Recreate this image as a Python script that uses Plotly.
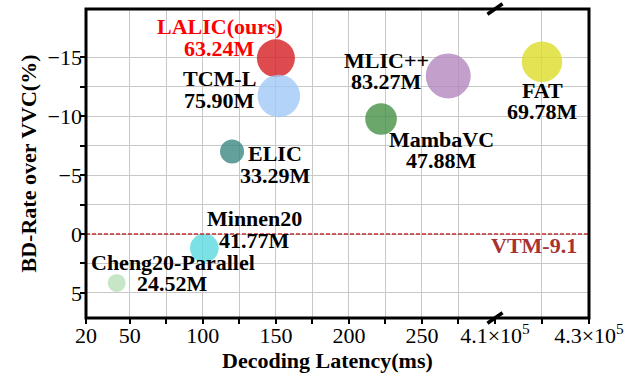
import math
import plotly.graph_objects as go

# ---------------- data ----------------
methods = ["LALIC(ours)", "TCM-L", "ELIC", "MLIC++", "MambaVC", "FAT", "Minnen20", "Cheng20-Parallel"]
latency_ms = [150, 152, 120, 268, 222, 4.2e5, 101, 41]
bd_rate = [-14.9, -11.7, -7.0, -13.4, -9.75, -14.6, 1.2, 4.15]
params_m = [63.24, 75.90, 33.29, 83.27, 47.88, 69.78, 41.77, 24.52]

x_left_ticks = [20, 50, 100, 150, 200, 250]
x_left_minor = [75, 125, 175, 225, 275]
x_right_ticks = [4.1e5, 4.3e5]
x_right_ticktext = ["4.1×10<sup>5</sup>", "4.3×10<sup>5</sup>"]
x_right_minor = [4.2e5]
y_ticks = [-15, -10, -5, 0, 5]
y_minor = [-12.5, -7.5, -2.5, 2.5]
vtm_value = 0
vtm_label = "VTM-9.1"

# ---------------- styles ----------------
colors = {
    "LALIC(ours)": "rgba(215,35,40,0.82)",
    "TCM-L": "rgba(160,200,248,0.8)",
    "ELIC": "rgba(60,135,130,0.8)",
    "MLIC++": "rgba(180,135,190,0.8)",
    "MambaVC": "rgba(70,145,70,0.8)",
    "FAT": "rgba(220,220,40,0.8)",
    "Minnen20": "rgba(90,218,224,0.8)",
    "Cheng20-Parallel": "rgba(185,222,185,0.8)",
}
# label offsets in pixels: (dx, dy_line1, dy_line2), dy positive = up
label_offsets = {
    "LALIC(ours)": (-56, 32, 10),
    "TCM-L": (-59, 17, -5),
    "ELIC": (43, -2, -24),
    "MLIC++": (-62, 15, -6),
    "MambaVC": (60, -21, -42),
    "FAT": (1, -29, -50),
    "Minnen20": (50, 30, 8),
    "Cheng20-Parallel": (56, 20, -1),
}
FONT = "Liberation Serif"
BREAK = 0.8131

def diameter(p):
    return 2 * math.sqrt(7.23 * (p - 13.3))

fig = go.Figure()
annotations = []
for m, x, y, p in zip(methods, latency_ms, bd_rate, params_m):
    xa = "x2" if x > 1e5 else "x"
    fig.add_trace(go.Scatter(
        x=[x], y=[y], mode="markers", xaxis=xa, yaxis="y",
        marker=dict(size=diameter(p), color=colors[m], line=dict(width=0)),
        showlegend=False, hoverinfo="skip"))
    dx, dy1, dy2 = label_offsets[m]
    tcolor = "#FF0000" if m.startswith("LALIC") else "black"
    for txt, dy in ((m, dy1), (f"{p:.2f}M", dy2)):
        annotations.append(dict(
            x=x, y=y, xref=xa, yref="y", text=f"<b>{txt}</b>", showarrow=False,
            xanchor="center", yanchor="middle", xshift=dx, yshift=dy,
            font=dict(family=FONT, size=22, color=tcolor)))

annotations.append(dict(
    x=1, xref="paper", y=vtm_value, yref="y", text=f"<b>{vtm_label}</b>", showarrow=False,
    xanchor="right", yanchor="middle", xshift=-10, yshift=-11,
    font=dict(family=FONT, size=22, color="#A83232")))
# x-axis title spanning both broken-axis parts
annotations.append(dict(
    x=0.481, xref="paper", y=0, yref="paper", text="<b>Decoding Latency(ms)</b>",
    showarrow=False, xanchor="center", yanchor="middle", yshift=-42,
    font=dict(family=FONT, size=22, color="black")))

shapes = [
    dict(type="line", xref="paper", yref="y", x0=0, x1=1, y0=vtm_value, y1=vtm_value,
         line=dict(color="#C03030", width=1.5, dash="4px,2px"), layer="above"),
    dict(type="rect", xref="paper", yref="paper", x0=0, x1=1, y0=0, y1=1,
         line=dict(color="black", width=3), layer="above"),
]
# broken-axis marks
for yb in (0, 1):
    shapes.append(dict(type="line", xref="paper", yref="paper",
                       x0=BREAK - 0.015, x1=BREAK + 0.015,
                       y0=yb - 0.017, y1=yb + 0.017,
                       line=dict(color="black", width=3.5), layer="above"))

grid = "#c8c8c8"
common_x = dict(
    showline=False, zeroline=False, showgrid=True, gridcolor=grid, gridwidth=1,
    ticks="", ticklabelstandoff=2, automargin=False,
    tickfont=dict(family=FONT, size=22, color="black"), anchor="y",
)

fig.update_layout(
    width=637, height=375,
    margin=dict(l=86, r=48, t=9, b=57),
    paper_bgcolor="white", plot_bgcolor="white",
    font=dict(family=FONT),
    xaxis=dict(domain=[0, BREAK], range=[20, 300], tickmode="array",
               tickvals=x_left_ticks, ticktext=[str(v) for v in x_left_ticks],
               minor=dict(tickvals=sorted(x_left_ticks + x_left_minor), showgrid=True,
                          gridcolor=grid, ticks="outside", ticklen=5, tickwidth=1.5,
                          tickcolor="black"),
               **common_x),
    xaxis2=dict(domain=[BREAK, 1], range=[4.1e5, 4.3e5], tickmode="array",
                tickvals=x_right_ticks, ticktext=x_right_ticktext,
                minor=dict(tickvals=sorted(x_right_ticks + x_right_minor), showgrid=True,
                           gridcolor=grid, ticks="outside", ticklen=5, tickwidth=1.5,
                           tickcolor="black"),
                **common_x),
    yaxis=dict(range=[7.12, -19.07], tickmode="array", tickvals=y_ticks,
               ticktext=[("\u2212" + str(-v)) if v < 0 else str(v) for v in y_ticks],
               minor=dict(tickvals=sorted(y_ticks + y_minor), showgrid=True, gridcolor=grid,
                          ticks="outside", ticklen=5, tickwidth=1.5, tickcolor="black"),
               showline=False, zeroline=False, showgrid=True, gridcolor=grid,
               ticks="", ticklabelstandoff=3, automargin=False,
               tickfont=dict(family=FONT, size=22, color="black"),
               title=dict(text="<b>BD-Rate over VVC(%)</b>",
                          font=dict(family=FONT, size=22, color="black"), standoff=4),
               anchor="x"),
    annotations=annotations,
    shapes=shapes,
)

fig.write_html("out.html")
